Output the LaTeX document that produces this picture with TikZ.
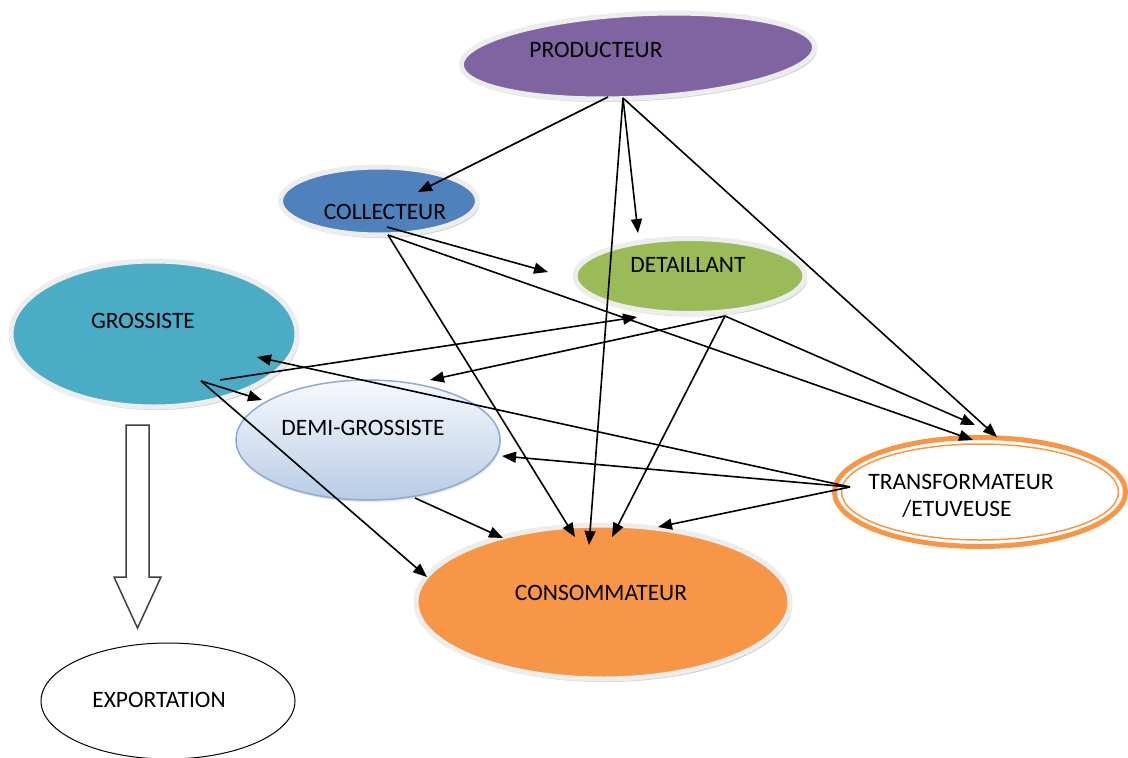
\documentclass[tikz,border=0pt]{standalone}
\usepackage{fontspec}
\setmainfont{Carlito}
\usetikzlibrary{arrows.meta,shapes.geometric,shadows}
\definecolor{cPurple}{HTML}{8064A2}
\definecolor{cBlue}{HTML}{4F81BD}
\definecolor{cGreen}{HTML}{9BBB59}
\definecolor{cTeal}{HTML}{4BACC6}
\definecolor{cOrange}{HTML}{F79646}
\definecolor{cDemiTop}{HTML}{F7F9FD}
\definecolor{cDemiBot}{HTML}{B8CCE4}
\definecolor{cDemiLine}{HTML}{8EAADB}
\definecolor{ringgray}{HTML}{EDEDED}
\begin{document}
\begin{tikzpicture}[x=1pt,y=-1pt,
  lbl/.style={inner sep=0pt, text=black, font=\fontsize{23.5}{27}\selectfont},
  blob/.style={ellipse, inner sep=0pt, draw=ringgray, line width=5pt,
    drop shadow={shadow xshift=2pt, shadow yshift=-3pt, fill=gray!60, opacity=0.6}},
  arr/.style={-{Triangle[length=14pt,width=11pt]}, line width=1.6pt, black}]
\useasboundingbox (0,0) rectangle (1128,758);
\fill[white] (0,0) rectangle (1128,758);

% ellipses
\node[blob, fill=cPurple, minimum width=354pt, minimum height=84pt, rotate=3] (prod) at (638,56) {};
\node[blob, fill=cBlue, minimum width=197pt, minimum height=68pt] (coll) at (379,201) {};
\node[blob, fill=cGreen, minimum width=230pt, minimum height=75pt] (det) at (690,276) {};
\node[blob, fill=cTeal, minimum width=286pt, minimum height=146pt] (gros) at (154,334) {};
\node[blob, fill=cOrange, minimum width=374pt, minimum height=154pt] (cons) at (603,602) {};
\node[ellipse, inner sep=0pt, draw=cDemiLine, line width=1.5pt, top color=cDemiTop, bottom color=cDemiBot,
  minimum width=264pt, minimum height=120pt,
  drop shadow={shadow xshift=1pt, shadow yshift=-2pt, fill=gray!50, opacity=0.4}] (demi) at (368,440) {};
\node[ellipse, inner sep=0pt, draw=cOrange, fill=white, line width=5pt, minimum width=291pt, minimum height=109pt] (trans) at (980,492) {};
\node[ellipse, inner sep=0pt, draw=cOrange, line width=1.5pt, minimum width=277pt, minimum height=96pt] (transIn) at (980,492) {};
\node[ellipse, inner sep=0pt, draw=black, fill=white, line width=1pt, minimum width=254pt, minimum height=116pt] (exp) at (168,701) {};

% labels
\node[lbl] (prodT) at (596,50) {PRODUCTEUR};
\node[lbl] (collT) at (385,212) {COLLECTEUR};
\node[lbl] (detT) at (688,265) {DETAILLANT};
\node[lbl] (grosT) at (143,321) {GROSSISTE};
\node[lbl] (demiT) at (363,428) {DEMI-GROSSISTE};
\node[lbl] (consT) at (601,593) {CONSOMMATEUR};
\node[lbl] (transT1) at (961,482) {TRANSFORMATEUR};
\node[lbl] (transT2) at (957,509) {/ETUVEUSE};
\node[lbl] (expT) at (159,700) {EXPORTATION};

% connector end points
\coordinate (prodA) at (608,97);
\coordinate (prodB) at (623,98);
\coordinate (collA) at (387,227);
\coordinate (collB) at (388,235);
\coordinate (collIn) at (418,192);
\coordinate (detIn) at (638,233);
\coordinate (detIn2) at (637,317);
\coordinate (detB) at (725,316);
\coordinate (detFree) at (548,272);
\coordinate (grosA) at (220,380);
\coordinate (grosB) at (201,381);
\coordinate (grosIn) at (257,357);
\coordinate (demiIn) at (262,400);
\coordinate (demiIn2) at (430,380);
\coordinate (demiIn3) at (502,456);
\coordinate (demiB) at (415,498);
\coordinate (consIn0) at (427,577);
\coordinate (consIn1) at (503,538);
\coordinate (consIn2) at (575,537);
\coordinate (consIn3) at (589,545);
\coordinate (consIn4) at (612,537);
\coordinate (consIn5) at (658,527);
\coordinate (trIn1) at (975,425);
\coordinate (trIn2) at (973,440);
\coordinate (trIn3) at (997,437);
\coordinate (trA) at (850,487);

% connectors
\draw[arr] (prodA) -- (collIn);
\draw[arr] (prodB) -- (detIn);
\draw[arr] (prodB) -- (consIn3);
\draw[arr] (prodB) -- (trIn3);
\draw[arr] (collA) -- (detFree);
\draw[arr] (collB) -- (trIn2);
\draw[arr] (collB) -- (consIn2);
\draw[arr] (grosA) -- (detIn2);
\draw[arr] (grosB) -- (demiIn);
\draw[arr] (grosB) -- (consIn0);
\draw[arr] (detB) -- (demiIn2);
\draw[arr] (detB) -- (consIn4);
\draw[arr] (detB) -- (trIn1);
\draw[arr] (trA) -- (grosIn);
\draw[arr] (trA) -- (demiIn3);
\draw[arr] (trA) -- (consIn5);
\draw[arr] (demiB) -- (consIn1);

% block arrow grossiste -> exportation
\coordinate (bk) at (137.5,425);
\draw[line width=1.5pt, draw=black!75, fill=white, line join=miter]
  (bk) ++(-11.5,0) -- ++(23,0) -- ++(0,152) -- ++(12,0) -- ++(-23.5,51) -- ++(-23.5,-51) -- ++(12,0) -- cycle;
\end{tikzpicture}
\end{document}
